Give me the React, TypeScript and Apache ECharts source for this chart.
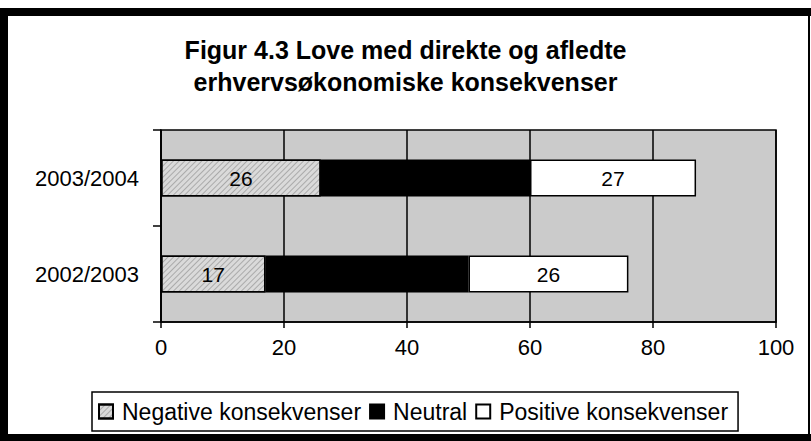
import React, { useEffect, useRef } from "react";
import * as echarts from "echarts";

const categories = ["2002/2003", "2003/2004"];
const negativeValues = [17, 26];
const neutralValues = [33, 34];
const positiveValues = [26, 27];
const seriesNames = ["Negative konsekvenser", "Neutral", "Positive konsekvenser"];
const titleLines = ["Figur 4.3 Love med direkte og afledte", "erhvervsøkonomiske konsekvenser"];
const xMin = 0;
const xMax = 100;
const xStep = 20;

const FONT = "'Liberation Sans', Arial, sans-serif";

export default function App() {
  const ref = useRef<HTMLDivElement>(null);

  useEffect(() => {
    if (!ref.current) return;
    const chart = echarts.init(ref.current, null, { renderer: "svg" });
    const hatch = {
      symbol: "rect",
      symbolSize: 1,
      color: "rgba(0,0,0,0.22)",
      dashArrayX: [1, 0],
      dashArrayY: [1, 3],
      rotation: -Math.PI / 4,
    };
    const labelStyle = {
      show: true,
      position: "inside",
      color: "#000",
      fontSize: 21,
      fontFamily: FONT,
    };
    chart.setOption({
      animation: false,
      backgroundColor: "#ffffff",
      title: {
        text: titleLines.join("\n"),
        left: "center",
        top: 29,
        textStyle: {
          fontSize: 25,
          fontWeight: "bold",
          fontFamily: FONT,
          color: "#000",
          lineHeight: 32,
        },
      },
      legend: {
        left: 92,
        top: 392,
        orient: "horizontal",
        icon: "rect",
        itemWidth: 14,
        itemHeight: 14,
        itemGap: 8,
        padding: [8, 10, 8, 6],
        borderColor: "#000",
        borderWidth: 1.5,
        textStyle: {
          fontSize: 23,
          fontFamily: FONT,
          color: "#000",
          padding: [0, 0, 0, 4],
        },
        data: seriesNames,
      },
      grid: {
        left: 161,
        top: 130,
        width: 615,
        height: 192,
        show: true,
        backgroundColor: "#cbcbcb",
        borderColor: "#000",
        borderWidth: 1.5,
      },
      xAxis: {
        type: "value",
        min: xMin,
        max: xMax,
        interval: xStep,
        axisLine: { show: true, lineStyle: { color: "#000", width: 1.5 } },
        axisTick: { show: true, length: 6, lineStyle: { color: "#000", width: 1.5 } },
        splitLine: { show: true, lineStyle: { color: "#000", width: 1.5 } },
        axisLabel: { fontSize: 22, fontFamily: FONT, color: "#000", margin: 14 },
      },
      yAxis: {
        type: "category",
        data: categories,
        axisLine: { show: true, lineStyle: { color: "#000", width: 1.5 } },
        axisTick: { show: true, length: 8, lineStyle: { color: "#000", width: 1.5 } },
        axisLabel: { fontSize: 22, fontFamily: FONT, color: "#000", margin: 22 },
      },
      series: [
        {
          name: seriesNames[0],
          type: "bar",
          stack: "total",
          barWidth: 37,
          data: negativeValues,
          itemStyle: { color: "#dadada", borderColor: "#000", borderWidth: 1.5, decal: hatch },
          label: labelStyle,
        },
        {
          name: seriesNames[1],
          type: "bar",
          stack: "total",
          barWidth: 37,
          data: neutralValues,
          itemStyle: { color: "#000", borderColor: "#000", borderWidth: 1.5 },
          label: { show: false },
        },
        {
          name: seriesNames[2],
          type: "bar",
          stack: "total",
          barWidth: 37,
          data: positiveValues,
          itemStyle: { color: "#fff", borderColor: "#000", borderWidth: 1.5 },
          label: labelStyle,
        },
      ],
      graphic: [
        { type: "rect", z: 100, shape: { x: 0, y: 8, width: 811, height: 8 }, style: { fill: "#000" } },
        { type: "rect", z: 100, shape: { x: 0, y: 8, width: 8, height: 433 }, style: { fill: "#000" } },
        { type: "rect", z: 100, shape: { x: 0, y: 434, width: 811, height: 7 }, style: { fill: "#000" } },
        { type: "rect", z: 100, shape: { x: 808, y: 8, width: 2, height: 433 }, style: { fill: "#000" } },
      ],
    });
    return () => chart.dispose();
  }, []);

  return (
    <div
      ref={ref}
      style={{ position: "absolute", left: 0, top: 0, width: 811, height: 441 }}
    />
  );
}
